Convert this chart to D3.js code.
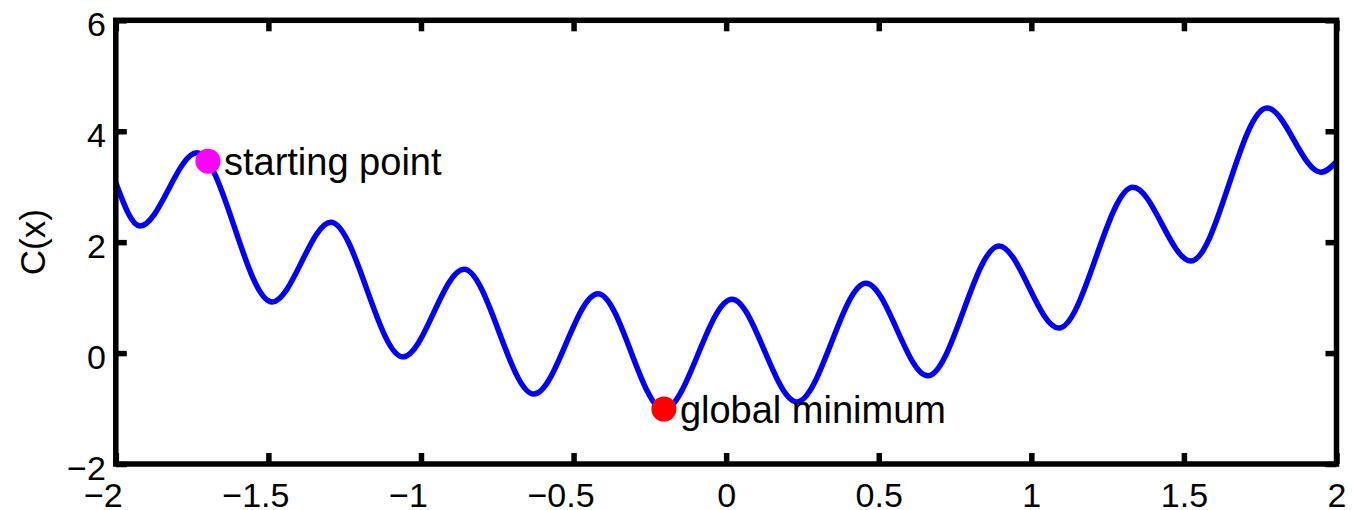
<!DOCTYPE html>
<html>
<head>
<meta charset="utf-8">
<script src="https://d3js.org/d3.v7.min.js"></script>
<style>
    body { margin: 0; background: #fff; }
    text { font-family: "Liberation Sans", Arial, Helvetica, sans-serif; fill: #000; }
</style>
</head>
<body>
<div id="chart"></div>
<script>
// Curve samples (extrema + end points)
const curveX = [-2.000, -1.921, -1.734, -1.488, -1.295, -1.059, -0.859, -0.630, -0.420, -0.204,
                0.019, 0.232, 0.458, 0.661, 0.894, 1.090, 1.333, 1.523, 1.772, 1.949, 2.000];
const curveY = [3.07, 2.29, 3.61, 0.92, 2.36, -0.07, 1.51, -0.74, 1.07, -1.02,
                0.97, -0.88, 1.26, -0.41, 1.93, 0.45, 2.99, 1.66, 4.42, 3.26, 3.45];

// Marked points
const pointNames = ["starting point", "global minimum"];
const pointX = [-1.698, -0.204];
const pointY = [3.46, -1.01];
const pointColors = ["#ff00ff", "#ff0000"];

// Ticks
const xTicks = [-2, -1.5, -1, -0.5, 0, 0.5, 1, 1.5, 2];
const xTickLabels = ["\u22122", "\u22121.5", "\u22121", "\u22120.5", "0", "0.5", "1", "1.5", "2"];
const yTicks = [-2, 0, 2, 4, 6];
const yTickLabels = ["\u22122", "0", "2", "4", "6"];

const width = 1355, height = 510;
const plotLeft = 115.8, plotRight = 1336.5, plotTop = 20.3, plotBottom = 464;

const svg = d3.select("#chart")
    .append("svg")
    .attr("width", width)
    .attr("height", height);

svg.append("rect")
    .attr("width", width)
    .attr("height", height)
    .attr("fill", "#fff");

const x = d3.scaleLinear().domain([-2, 2]).range([plotLeft, plotRight]);
const y = d3.scaleLinear().domain([-2, 6]).range([plotBottom, plotTop]);

// the curve
const line = d3.line()
    .x(d => x(d[0]))
    .y(d => y(d[1]))
    .curve(d3.curveMonotoneX);

svg.append("path")
    .datum(curveX.map((v, i) => [v, curveY[i]]))
    .attr("d", line)
    .attr("fill", "none")
    .attr("stroke", "#0000ff")
    .attr("stroke-width", 5.5)
    .attr("stroke-linejoin", "round");

// markers + labels
pointNames.forEach((name, i) => {
    svg.append("circle")
        .attr("cx", x(pointX[i]))
        .attr("cy", y(pointY[i]))
        .attr("r", 12.5)
        .attr("fill", pointColors[i]);
    svg.append("text")
        .attr("x", x(pointX[i]) + 16)
        .attr("y", y(pointY[i]) + 13.5)
        .attr("font-size", "38px")
        .text(name);
});

// axes (ticks pointing inward, MATLAB style)
const fontSize = "34px";

const xAxis = svg.append("g")
    .attr("transform", `translate(0,${plotBottom})`)
    .call(d3.axisBottom(x).tickValues(xTicks).tickFormat((d, i) => xTickLabels[i])
        .tickSizeInner(-11).tickSizeOuter(0));
xAxis.selectAll("text")
    .attr("font-size", fontSize)
    .attr("y", 43)
    .attr("dy", 0)
    .attr("dx", d => d < 0 ? -13 : 0);

svg.append("g")
    .attr("transform", `translate(0,${plotTop})`)
    .call(d3.axisTop(x).tickValues(xTicks).tickFormat("")
        .tickSizeInner(-11).tickSizeOuter(0));

const yAxis = svg.append("g")
    .attr("transform", `translate(${plotLeft},0)`)
    .call(d3.axisLeft(y).tickValues(yTicks).tickFormat((d, i) => yTickLabels[i])
        .tickSizeInner(-11).tickSizeOuter(0).tickPadding(10));
yAxis.selectAll("text")
    .attr("font-size", fontSize)
    .attr("dy", "0.45em");

svg.append("g")
    .attr("transform", `translate(${plotRight},0)`)
    .call(d3.axisRight(y).tickValues(yTicks).tickFormat("")
        .tickSizeInner(-11).tickSizeOuter(0));

svg.selectAll(".domain").remove();
svg.selectAll(".tick line")
    .attr("stroke", "#000")
    .attr("stroke-width", 5.5);
svg.selectAll(".tick text").attr("fill", "#000");

// axes box
svg.append("rect")
    .attr("x", plotLeft)
    .attr("y", plotTop)
    .attr("width", plotRight - plotLeft)
    .attr("height", plotBottom - plotTop)
    .attr("fill", "none")
    .attr("stroke", "#000")
    .attr("stroke-width", 5.5);

// y label
svg.append("text")
    .attr("transform", `translate(45,${(plotTop + plotBottom) / 2}) rotate(-90)`)
    .attr("text-anchor", "middle")
    .attr("font-size", "35px")
    .text("C(x)");
</script>
</body>
</html>
